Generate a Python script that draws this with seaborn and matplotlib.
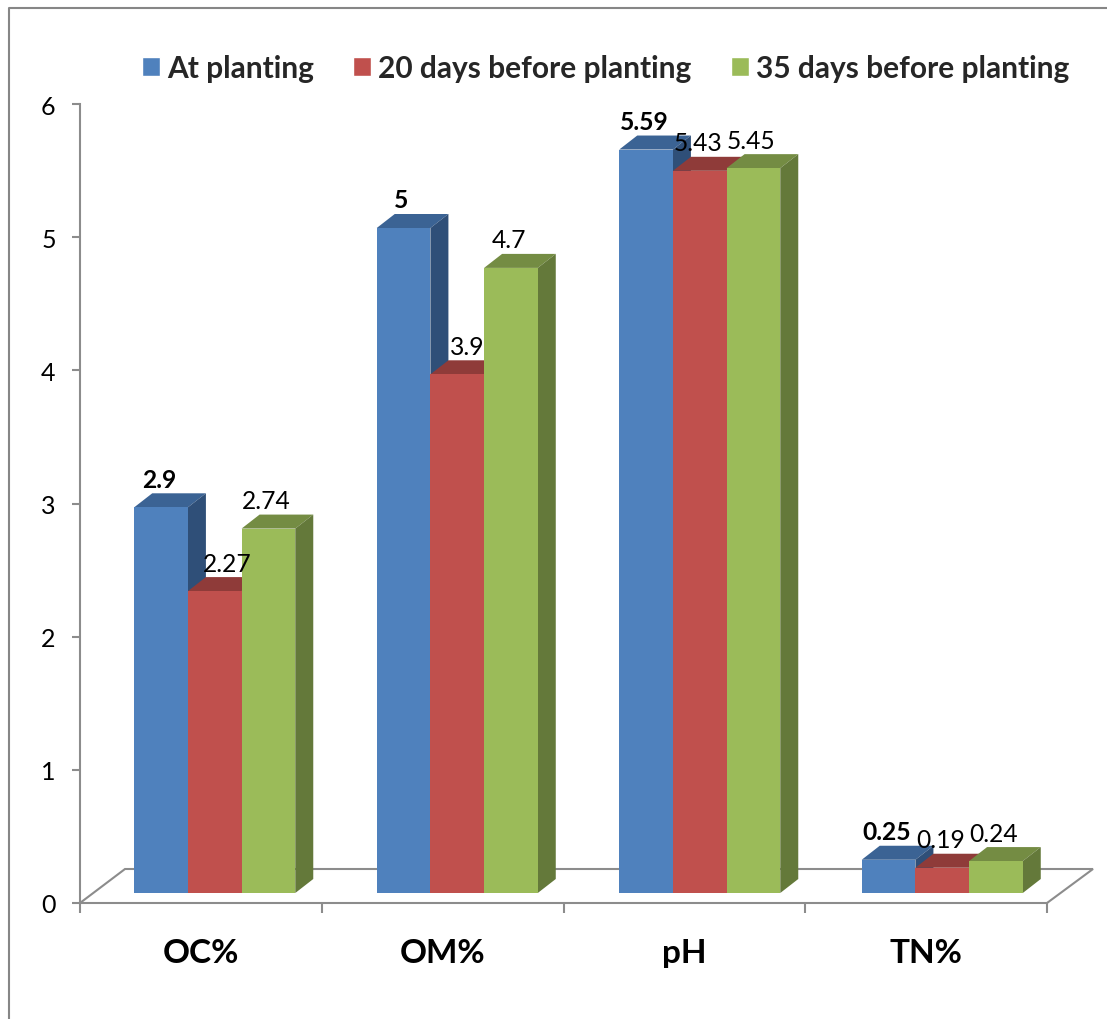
import matplotlib
matplotlib.use("Agg")
import matplotlib.pyplot as plt
from matplotlib.lines import Line2D
from matplotlib.patches import Polygon
import pandas as pd
import seaborn as sns

# Soil properties measured at each sampling stage
parameters = ["OC%", "OM%", "pH", "TN%"]
stages = ["At planting", "20 days before planting", "35 days before planting"]
at_planting = [2.9, 5, 5.59, 0.25]
before_20 = [2.27, 3.9, 5.43, 0.19]
before_35 = [2.74, 4.7, 5.45, 0.24]

front_colors = ["#4F81BD", "#C0504D", "#9BBB59"]
top_colors = ["#3B6394", "#8F3B39", "#748C43"]
side_colors = ["#2F4F78", "#7A3230", "#64793A"]

W, H = 1107, 1020
DPI = 100
DEPTH_X, DEPTH_Y = 18, 14  # oblique extrusion of each bar, in pixels
GREY = "#8C8C8C"

sns.set_theme(style="white")
plt.rcParams["font.family"] = ["Lato", "DejaVu Sans"]

df = pd.DataFrame({
    "parameter": parameters * 3,
    "stage": [s for s in stages for _ in parameters],
    "value": at_planting + before_20 + before_35,
})

fig = plt.figure(figsize=(W / DPI, H / DPI), dpi=DPI, facecolor="white")


def axes_px(left, top, right, bottom):
    return fig.add_axes([left / W, 1 - bottom / H, (right - left) / W, (bottom - top) / H])


# Outer frame: only the left and top edges are drawn
fig.add_artist(Line2D([9 / W, 9 / W, 1], [0, 1 - 9 / H, 1 - 9 / H],
                      color="#868686", lw=1.5, transform=fig.transFigure))

# Front axis frame with value ticks and category labels
frame = axes_px(80, 105, 1047, 904)
frame.set_xlim(-0.5, 3.5)
frame.set_ylim(0, 6)
frame.patch.set_alpha(0)
for name in ("top", "right"):
    frame.spines[name].set_visible(False)
for name in ("left", "bottom"):
    frame.spines[name].set_color(GREY)
    frame.spines[name].set_linewidth(1.5)
frame.set_yticks(range(7))
frame.tick_params(axis="y", left=True, length=6, width=1.5, color=GREY,
                  labelsize=18, labelcolor="black", pad=11.5)
frame.set_xticks([-0.5, 0.5, 1.5, 2.5, 3.5])
frame.set_xticklabels([])
frame.tick_params(axis="x", bottom=True, length=7, width=1.5, color=GREY)
frame.set_xticks(range(4), labels=parameters, minor=True)
frame.tick_params(axis="x", which="minor", bottom=False, labelsize=24, labelcolor="black", pad=21.5)
for lab in frame.get_xticklabels(minor=True):
    lab.set_fontweight("bold")

# Floor of the chart, receding from the front axis
to_px = frame.transData
x0, y0 = to_px.transform((-0.5, 0))
x1, _ = to_px.transform((3.5, 0))
floor_px = [(x0, y0), (x0 + 45, y0 + 34), (x1 + 46, y0 + 34), (x1, y0)]
frame.add_patch(Polygon(floor_px, closed=False, fill=False, edgecolor=GREY, lw=1.5,
                        transform=None, clip_on=False))

# Bars: their front faces sit slightly behind and to the right of the front axis
ax = axes_px(93.5, 96, 1063.5, 894)
ax.patch.set_alpha(0)
sns.barplot(data=df, x="parameter", y="value", hue="stage", order=parameters,
            hue_order=stages, palette=front_colors, saturation=1, width=0.664, gap=0,
            errorbar=None, ax=ax)
ax.set_xlim(-0.5, 3.5)
ax.set_ylim(0, 6)
ax.set_axis_off()

trans = ax.transData
label_nudge = {(0, 1): 15, (1, 1): 12}
for i, container in enumerate(ax.containers):
    for j, bar in enumerate(container):
        bar.set_zorder(3 + 2 * i)
        bar.set_linewidth(0)
        left_px, top_px = trans.transform((bar.get_x(), bar.get_height()))
        right_px, base_px = trans.transform((bar.get_x() + bar.get_width(), 0))
        top_face = [(left_px, top_px), (right_px, top_px),
                    (right_px + DEPTH_X, top_px + DEPTH_Y), (left_px + DEPTH_X, top_px + DEPTH_Y)]
        side_face = [(right_px, top_px), (right_px + DEPTH_X, top_px + DEPTH_Y),
                     (right_px + DEPTH_X, base_px + DEPTH_Y), (right_px, base_px)]
        ax.add_patch(Polygon(top_face, closed=True, facecolor=top_colors[i], edgecolor="none",
                             transform=None, clip_on=False, zorder=2 + 2 * i))
        ax.add_patch(Polygon(side_face, closed=True, facecolor=side_colors[i], edgecolor="none",
                             transform=None, clip_on=False, zorder=2 + 2 * i))
        value = bar.get_height()
        ax.annotate(f"{value:g}",
                    xy=(bar.get_x() + bar.get_width() / 2, value),
                    xytext=(-2 + label_nudge.get((j, i), 0), 28), textcoords="offset pixels",
                    ha="center", va="center", fontsize=17.7, color="black",
                    fontweight="bold" if i == 0 else "normal",
                    zorder=20, annotation_clip=False)

sns.move_legend(ax, "center left", bbox_to_anchor=(142 / W, 1 - 69 / H),
                bbox_transform=fig.transFigure, ncol=3, frameon=False, title=None,
                handlelength=0.6, handleheight=0.6, handletextpad=0.235,
                columnspacing=1.317, borderpad=0, borderaxespad=0,
                prop={"weight": "bold", "size": 21.5})

fig.savefig("out.png", dpi=DPI, facecolor="white")
